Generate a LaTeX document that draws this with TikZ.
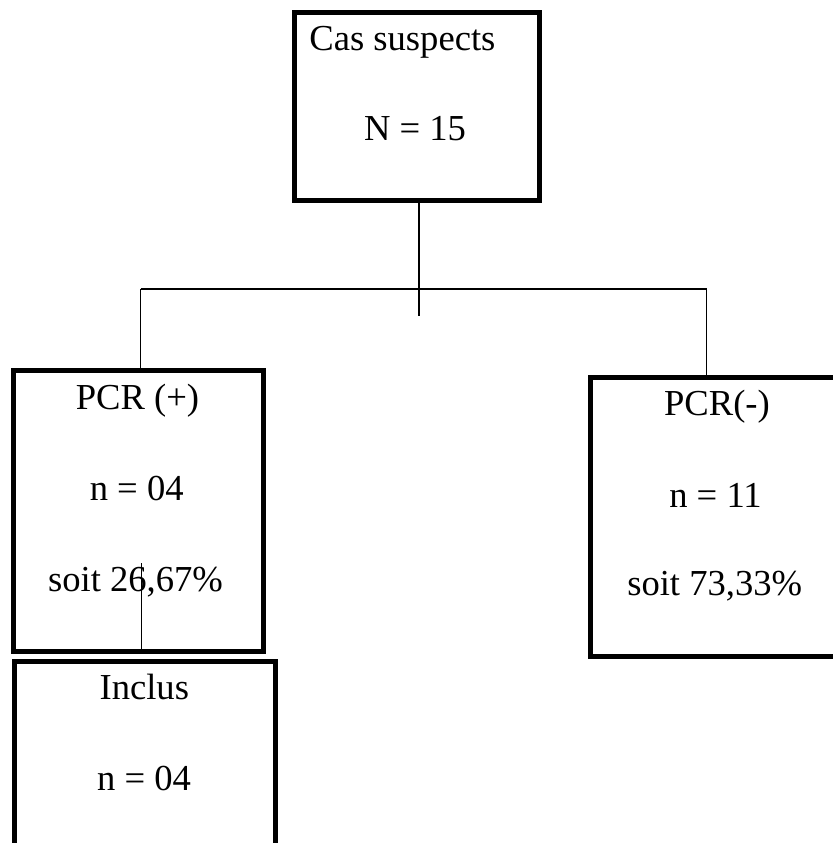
\documentclass[tikz,border=0pt]{standalone}
\usepackage{fontspec}
\setmainfont{Liberation Serif}
\usepackage{tikz}
\usetikzlibrary{positioning}
\tikzset{
  box_node/.style = {rectangle, draw=black, line width=2.5pt,
    inner sep=0pt},% cadre epais
  txt_node/.style = {inner sep=0pt, font=\fontsize{18.3}{22}\selectfont},% ligne de texte
  link/.style = {draw=black, line width=0.6pt}% trait fin
}

\begin{document}
\begin{tikzpicture}[x=0.5pt, y=-0.5pt]
      \clip (0,0) rectangle (833,843);
      % cadres
      \node [box_node, minimum width=122.5pt, minimum height=94pt] (cas) at (417,106.5) {};
      \node [box_node, minimum width=125pt, minimum height=140.4pt] (pcr_pos) at (138.2,511.2) {};
      \node [box_node, minimum width=144.6pt, minimum height=139.5pt] (pcr_neg) at (735.4,517) {};
      \node [box_node, minimum width=130.2pt, minimum height=119.3pt] (inclus) at (145,780.8) {};
      % textes
      \node [txt_node, anchor=base west] (cas_t) at (309,50) {Cas suspects};
      \node [txt_node, anchor=base] (cas_n) at (415,140) {N = 15};
      \node [txt_node, anchor=base] (pos_t) at (137.5,409) {PCR (+)};
      \node [txt_node, anchor=base] (pos_n) at (136.7,500) {n = 04};
      \node [txt_node, anchor=base] (pos_p) at (135.5,591) {soit 26,67\%};
      \node [txt_node, anchor=base] (neg_t) at (717,415) {PCR(-)};
      \node [txt_node, anchor=base] (neg_n) at (715.5,507) {n = 11};
      \node [txt_node, anchor=base] (neg_p) at (714.7,595) {soit 73,33\%};
      \node [txt_node, anchor=base] (inc_t) at (144.3,699) {Inclus};
      \node [txt_node, anchor=base] (inc_n) at (144,790) {n = 04};
      % liaisons
      \coordinate (jonction) at (419,289);
      \coordinate (gauche) at (140.6,289);
      \coordinate (droite) at (706.5,289);
      \coordinate (lien) at (141.5,563);
      \draw [link] (cas.south -| jonction) -- (jonction) -- ++(0,27);
      \draw [link] (gauche) -- (droite);
      \draw [link] (gauche) -- (gauche |- pcr_pos.north);
      \draw [link] (droite) -- (droite |- pcr_neg.north);
      \draw [link] (lien) -- (lien |- pcr_pos.south);
    \end{tikzpicture}
\end{document}
